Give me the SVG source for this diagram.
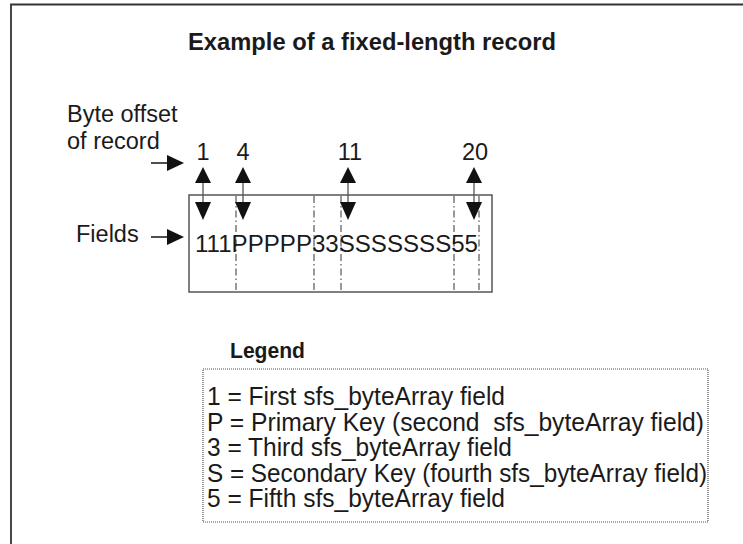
<svg xmlns="http://www.w3.org/2000/svg" width="743" height="544" viewBox="0 0 743 544">
  <style>
    text { font-family: "Liberation Sans", Arial, sans-serif; fill: #1a1a1a; }
    .lbl { font-size: 23.5px; }
    .num { font-size: 23.5px; text-anchor: middle; }
    .bold { font-weight: bold; }
    .leg { font-size: 25px; }
    .frame { fill: none; stroke: #333; stroke-width: 1.8; }
    .box { fill: none; stroke: #555; stroke-width: 1.5; }
    .sep { stroke: #333; stroke-width: 1; stroke-dasharray: 7 3 1.5 3; }
    .shaft { stroke: #555; stroke-width: 1.3; }
    .pointer { stroke: #222; stroke-width: 1.6; }
    .head { fill: #111; }
    .dotted { fill: none; stroke: #555; stroke-width: 1.2; stroke-dasharray: 1 1; }
  </style>

  <!-- outer frame, open to the right and bottom -->
  <path class="frame" d="M11,544 V4.5 H743"/>

  <g id="title">
    <text class="bold" x="188" y="50" font-size="23.5" textLength="368" lengthAdjust="spacingAndGlyphs">Example of a fixed-length record</text>
  </g>

  <g id="offset-label">
    <text class="lbl" x="67" y="122">Byte offset</text>
    <text class="lbl" x="67" y="149">of record</text>
  </g>

  <g id="fields-label">
    <text class="lbl" x="76" y="242">Fields</text>
  </g>

  <g id="offsets">
    <text class="num" x="203" y="160">1</text>
    <text class="num" x="243" y="160">4</text>
    <text class="num" x="350" y="160">11</text>
    <text class="num" x="475" y="160">20</text>
  </g>

  <g id="record">
    <rect class="box" x="189" y="195" width="303" height="97"/>
    <line class="sep" x1="236" y1="196" x2="236" y2="291"/>
    <line class="sep" x1="314" y1="196" x2="314" y2="291"/>
    <line class="sep" x1="341" y1="196" x2="341" y2="291"/>
    <line class="sep" x1="454" y1="196" x2="454" y2="291"/>
    <line class="sep" x1="479" y1="196" x2="479" y2="291"/>
    <text class="lbl" x="195" y="252" textLength="283" lengthAdjust="spacingAndGlyphs">111PPPPP33SSSSSSS55</text>
  </g>

  <g id="connectors">
    <!-- pointers from the side labels -->
    <line class="pointer" x1="151" y1="163" x2="169" y2="163"/>
    <polygon class="head" points="184,163 167,155 167,171"/>
    <line class="pointer" x1="151" y1="237" x2="169" y2="237"/>
    <polygon class="head" points="184,237 167,229 167,245"/>

    <!-- double arrows marking each byte offset -->
    <line class="shaft" x1="203" y1="175" x2="203" y2="212"/>
    <polygon class="head" points="203,167 195,183 211,183"/>
    <polygon class="head" points="203,220 195,202 211,202"/>

    <line class="shaft" x1="243" y1="175" x2="243" y2="212"/>
    <polygon class="head" points="243,167 235,183 251,183"/>
    <polygon class="head" points="243,220 235,202 251,202"/>

    <line class="shaft" x1="348" y1="175" x2="348" y2="212"/>
    <polygon class="head" points="348,167 340,183 356,183"/>
    <polygon class="head" points="348,220 340,202 356,202"/>

    <line class="shaft" x1="474" y1="175" x2="474" y2="212"/>
    <polygon class="head" points="474,167 466,183 482,183"/>
    <polygon class="head" points="474,220 466,202 482,202"/>
  </g>

  <g id="legend">
    <text class="bold" x="230" y="358" font-size="21.5" textLength="75" lengthAdjust="spacingAndGlyphs">Legend</text>
    <rect class="dotted" x="203" y="369" width="505" height="153"/>
    <text class="leg" x="207" y="405" textLength="298" lengthAdjust="spacingAndGlyphs">1 = First sfs_byteArray field</text>
    <text class="leg" x="207" y="430.5" xml:space="preserve" textLength="497" lengthAdjust="spacingAndGlyphs">P = Primary Key (second  sfs_byteArray field)</text>
    <text class="leg" x="207" y="456" textLength="305" lengthAdjust="spacingAndGlyphs">3 = Third sfs_byteArray field</text>
    <text class="leg" x="207" y="481.5" textLength="500" lengthAdjust="spacingAndGlyphs">S = Secondary Key (fourth sfs_byteArray field)</text>
    <text class="leg" x="207" y="507" textLength="298" lengthAdjust="spacingAndGlyphs">5 = Fifth sfs_byteArray field</text>
  </g>
</svg>
